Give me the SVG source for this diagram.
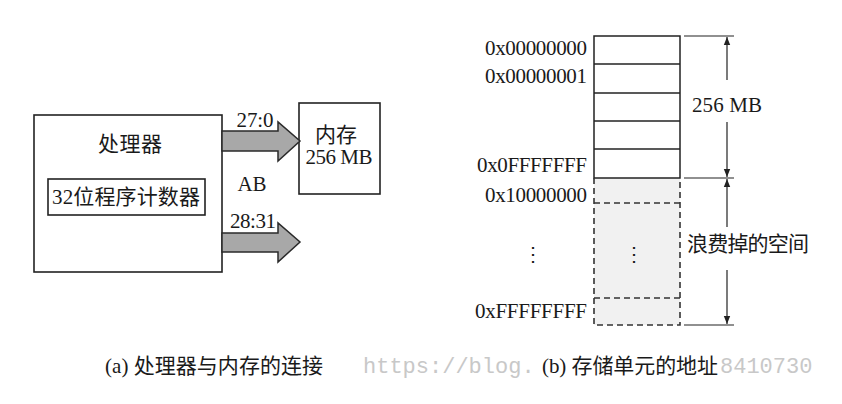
<svg xmlns="http://www.w3.org/2000/svg" width="842" height="404" viewBox="0 0 842 404">
<style>
.t{font-family:"Liberation Serif","Noto Sans CJK SC",serif;font-size:21px;fill:#1a1a1a}
.box{fill:#fff;stroke:#222;stroke-width:1.6}
.bus{fill:#a8a8a8;stroke:#2a2a2a;stroke-width:1.5}
.cell{fill:none;stroke:#222;stroke-width:1.5}
.dash{fill:none;stroke:#333;stroke-width:1.6;stroke-dasharray:6,4}
.dim{stroke:#222;stroke-width:1.2;fill:none}
.wm{font-family:"Liberation Mono",monospace;font-size:22px;fill:#c8c8c8}
.dots{font-family:"DejaVu Serif",serif;font-size:20px;fill:#1a1a1a}
</style>
<defs>
<marker id="ah" viewBox="0 0 10 10" refX="10" refY="5" markerWidth="10" markerHeight="8" markerUnits="userSpaceOnUse" orient="auto">
<path d="M0,1 L10,5 L0,9 Z" fill="#222"/>
</marker>
</defs>
<rect width="842" height="404" fill="#fff"/>

<g id="processor">
<rect class="box" x="34" y="115" width="188" height="157"/>
<text class="t" x="130" y="151" text-anchor="middle" textLength="64">处理器</text>
</g>
<g id="pc">
<rect class="box" x="48" y="179" width="157" height="36"/>
<text class="t" x="52" y="204" textLength="148">32位程序计数器</text>
</g>
<g id="memory">
<rect class="box" x="299" y="103" width="81" height="91"/>
<text class="t" x="336" y="142" text-anchor="middle" textLength="42">内存</text>
<text class="t" x="339" y="164" text-anchor="middle" textLength="67">256 MB</text>
</g>

<g id="connectors">
<path class="bus" d="M222,131 L278,131 L278,122 L300,141 L278,161 L278,151 L222,151 Z"/>
<path class="bus" d="M222,233 L278,233 L278,223 L300,242 L278,262 L278,252 L222,252 Z"/>
<text class="t" x="255" y="127" text-anchor="middle" textLength="37">27:0</text>
<text class="t" x="253" y="228" text-anchor="middle" textLength="46">28:31</text>
<text class="t" x="252" y="191" text-anchor="middle">AB</text>
</g>

<g id="address-map">
<rect x="594" y="178" width="86" height="147" fill="#f1f1f1"/>
<rect class="cell" x="594" y="36" width="86" height="142"/>
<line class="cell" x1="594" y1="64" x2="680" y2="64"/>
<line class="cell" x1="594" y1="93" x2="680" y2="93"/>
<line class="cell" x1="594" y1="121" x2="680" y2="121"/>
<line class="cell" x1="594" y1="149" x2="680" y2="149"/>
<path class="dash" d="M594,178 L594,325 L680,325 L680,178"/>
<line class="dash" x1="594" y1="203" x2="680" y2="203"/>
<line class="dash" x1="594" y1="298" x2="680" y2="298"/>
<text class="t" x="587" y="55" text-anchor="end" textLength="102">0x00000000</text>
<text class="t" x="587" y="83" text-anchor="end" textLength="102">0x00000001</text>
<text class="t" x="587" y="172" text-anchor="end" textLength="110">0x0FFFFFFF</text>
<text class="t" x="587" y="202" text-anchor="end" textLength="102">0x10000000</text>
<text class="t" x="587" y="318" text-anchor="end" textLength="112">0xFFFFFFFF</text>
<text class="dots" x="533" y="261" text-anchor="middle">⋮</text>
<text class="dots" x="634" y="261" text-anchor="middle">⋮</text>
</g>

<g id="dimensions">
<line class="dim" x1="684" y1="36" x2="734" y2="36"/>
<line class="dim" x1="684" y1="178" x2="734" y2="178"/>
<line class="dim" x1="684" y1="325" x2="734" y2="325"/>
<line class="dim" x1="727" y1="80" x2="727" y2="37" marker-end="url(#ah)"/>
<line class="dim" x1="727" y1="122" x2="727" y2="177" marker-end="url(#ah)"/>
<line class="dim" x1="727" y1="227" x2="727" y2="179" marker-end="url(#ah)"/>
<line class="dim" x1="727" y1="270" x2="727" y2="324" marker-end="url(#ah)"/>
<text class="t" x="727" y="112" text-anchor="middle" textLength="70">256 MB</text>
<text class="t" x="687" y="251" textLength="122">浪费掉的空间</text>
</g>

<text class="wm" x="363" y="373">https://blog.</text>
<text class="wm" x="720" y="373">8410730</text>
<text class="t" x="105" y="373" textLength="218">(a) 处理器与内存的连接</text>
<text class="t" x="542" y="373" textLength="176">(b) 存储单元的地址</text>
</svg>
